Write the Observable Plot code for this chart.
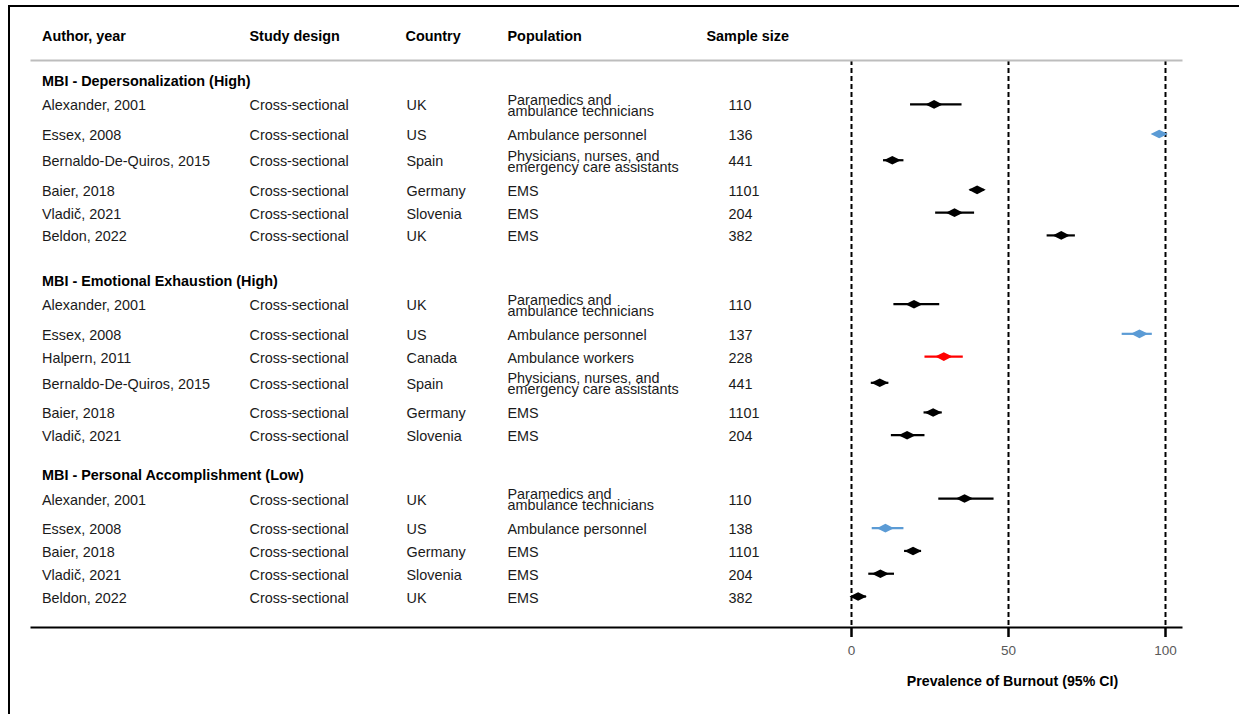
<!DOCTYPE html>
<html>
<head>
<meta charset="utf-8">
<script src="https://cdn.jsdelivr.net/npm/d3@7"></script>
<script src="https://cdn.jsdelivr.net/npm/@observablehq/plot@0.6"></script>
<style>
  html, body { margin: 0; padding: 0; background: #fff; overflow: hidden; width: 1239px; height: 714px; }
  #chart { position: absolute; left: 0; top: 0; }
  #border { position: absolute; left: 8px; top: 5px; width: 3000px; height: 3000px;
            border-left: 2px solid #000; border-top: 2px solid #000; pointer-events: none; z-index: 2; }
</style>
</head>
<body>
<div id="chart"></div>
<div id="border"></div>
<script>
// ---------------- data ----------------
const groupLabels = [
  "MBI - Depersonalization (High)",
  "MBI - Emotional Exhaustion (High)",
  "MBI - Personal Accomplishment (Low)"
];
const studyGroup = [0,0,0,0,0,0, 1,1,1,1,1,1, 2,2,2,2,2];
const authors = [
  "Alexander, 2001","Essex, 2008","Bernaldo-De-Quiros, 2015","Baier, 2018","Vladič, 2021","Beldon, 2022",
  "Alexander, 2001","Essex, 2008","Halpern, 2011","Bernaldo-De-Quiros, 2015","Baier, 2018","Vladič, 2021",
  "Alexander, 2001","Essex, 2008","Baier, 2018","Vladič, 2021","Beldon, 2022"
];
const designs = [
  "Cross-sectional","Cross-sectional","Cross-sectional","Cross-sectional","Cross-sectional","Cross-sectional",
  "Cross-sectional","Cross-sectional","Cross-sectional","Cross-sectional","Cross-sectional","Cross-sectional",
  "Cross-sectional","Cross-sectional","Cross-sectional","Cross-sectional","Cross-sectional"
];
const countries = [
  "UK","US","Spain","Germany","Slovenia","UK",
  "UK","US","Canada","Spain","Germany","Slovenia",
  "UK","US","Germany","Slovenia","UK"
];
const populations = [
  "Paramedics and\nambulance technicians","Ambulance personnel","Physicians, nurses, and\nemergency care assistants","EMS","EMS","EMS",
  "Paramedics and\nambulance technicians","Ambulance personnel","Ambulance workers","Physicians, nurses, and\nemergency care assistants","EMS","EMS",
  "Paramedics and\nambulance technicians","Ambulance personnel","EMS","EMS","EMS"
];
const sampleSizes = [110,136,441,1101,204,382, 110,137,228,441,1101,204, 110,138,1101,204,382];
const prevalence  = [26.3,98.0,13.0,40.0,32.8,66.8, 19.9,91.7,29.4,9.0,26.0,17.7, 36.0,10.8,19.6,9.2,2.1];
const ciLower     = [18.8,97.0,10.2,37.8,26.8,62.3, 13.5,86.2,23.4,6.3,23.1,12.7, 27.8,6.6,16.9,5.5,0.0];
const ciUpper     = [35.2,99.0,16.7,42.3,39.2,71.3, 28.1,95.8,35.6,11.9,28.9,23.4, 45.4,16.7,22.3,13.7,4.8];
const markerClass = ["k","b","k","k","k","k", "k","b","r","k","k","k", "k","b","k","k","k"];
const columnHeaders = ["Author, year","Study design","Country","Population","Sample size"];
const xTicks = [0, 50, 100];
const axisTitle = "Prevalence of Burnout (95% CI)";

// ---------------- row layout (derived from data) ----------------
const rows = [];
const headerRows = [];
let pos = 0, prevTwo = false;
groupLabels.forEach((label, g) => {
  if (g > 0) pos += (g === 1 ? 1.97 : 1.73);
  headerRows.push({label, pos});
  let first = true;
  studyGroup.forEach((sg, i) => {
    if (sg !== g) return;
    const two = populations[i].includes("\n");
    pos += first ? 1.05 : 1 + (prevTwo ? 0.3 : 0) + (two ? 0.15 : 0);
    rows.push({
      pos, author: authors[i], design: designs[i], country: countries[i],
      population: populations[i], n: String(sampleSizes[i]),
      est: prevalence[i], lo: ciLower[i], hi: ciUpper[i], cls: markerClass[i]
    });
    prevTwo = two; first = false;
  });
});
const maxPos = pos;

// wide diamond symbol
const wideDiamond = {
  draw(context, size) {
    const r = Math.sqrt(size / Math.PI);
    const w = r * 2, h = r;
    context.moveTo(-w, 0);
    context.lineTo(0, -h);
    context.lineTo(w, 0);
    context.lineTo(0, h);
    context.closePath();
  }
};

const W = 1239, H = 714, MT = 60, MB = 87, ML = 31, MR = 58;
const FS = 14.4;
const bodyFill = "#1a1a1a";
const columns = [
  {key: "author",     dx: 10.5},
  {key: "design",     dx: 218},
  {key: "country",    dx: 375},
  {key: "population", dx: 476},
  {key: "n",          dx: 697}
];
const headerDx = [10.5, 218, 374, 476, 675];
const tickLen = 10;

const marks = [
  Plot.ruleX(xTicks, {stroke: "#000", strokeWidth: 2, strokeDasharray: "5,3"}),
  Plot.frame({anchor: "top", stroke: "#bdbdbd", strokeWidth: 2}),
  Plot.frame({anchor: "bottom", stroke: "#000", strokeWidth: 2}),
  // axis ticks hanging below the frame
  Plot.ruleX(xTicks, {stroke: "#000", strokeWidth: 2.5, insetTop: H - MT - MB, insetBottom: -tickLen}),
  Plot.text(xTicks, {x: d => d, text: d => String(d), frameAnchor: "bottom", lineAnchor: "middle",
                     dy: 23, fontSize: 13.5, fill: "#595959"}),
  Plot.text([axisTitle], {x: () => (xTicks[0] + xTicks[xTicks.length - 1]) / 2, text: d => d,
                          frameAnchor: "bottom", lineAnchor: "middle", dy: 54, dx: 4,
                          fontWeight: "bold", fontSize: 14.2, fill: "#000"}),
  // column headers
  ...columnHeaders.map((h, j) => Plot.text([h], {text: d => d, frameAnchor: "top-left", lineAnchor: "middle",
                          textAnchor: "start", dx: headerDx[j], dy: -24, fontWeight: "bold", fontSize: FS, fill: "#000"})),
  // group headers
  Plot.text(headerRows, {y: "pos", text: "label", frameAnchor: "left", textAnchor: "start", dx: 10.5, dy: 1,
                         fontWeight: "bold", fontSize: FS, fill: "#000"}),
  // table columns
  ...columns.map(c => Plot.text(rows, {y: "pos", text: c.key, frameAnchor: "left", textAnchor: "start",
                         dx: c.dx, dy: 2.5, fontSize: FS, fill: bodyFill, lineHeight: 0.76})),
  // CIs and points
  Plot.ruleY(rows, {y: "pos", x1: "lo", x2: "hi", stroke: "cls", strokeWidth: 2.2}),
  Plot.dot(rows, {x: "est", y: "pos", fill: "cls", stroke: "none", symbol: wideDiamond, r: 4.3})
];

const chart = Plot.plot({
  width: W,
  height: H,
  marginLeft: ML,
  marginRight: MR,
  marginTop: MT,
  marginBottom: MB,
  x: {domain: [0, 100], range: [851, 1165], label: null, axis: null},
  y: {domain: [0, maxPos], range: [80, 596], axis: null},
  color: {domain: ["k", "b", "r"], range: ["#000000", "#5B9BD5", "#FF0000"]},
  style: {fontFamily: "'Liberation Sans', Arial, sans-serif", background: "transparent", color: "#000"},
  marks
});
document.getElementById("chart").appendChild(chart);
</script>
</body>
</html>
